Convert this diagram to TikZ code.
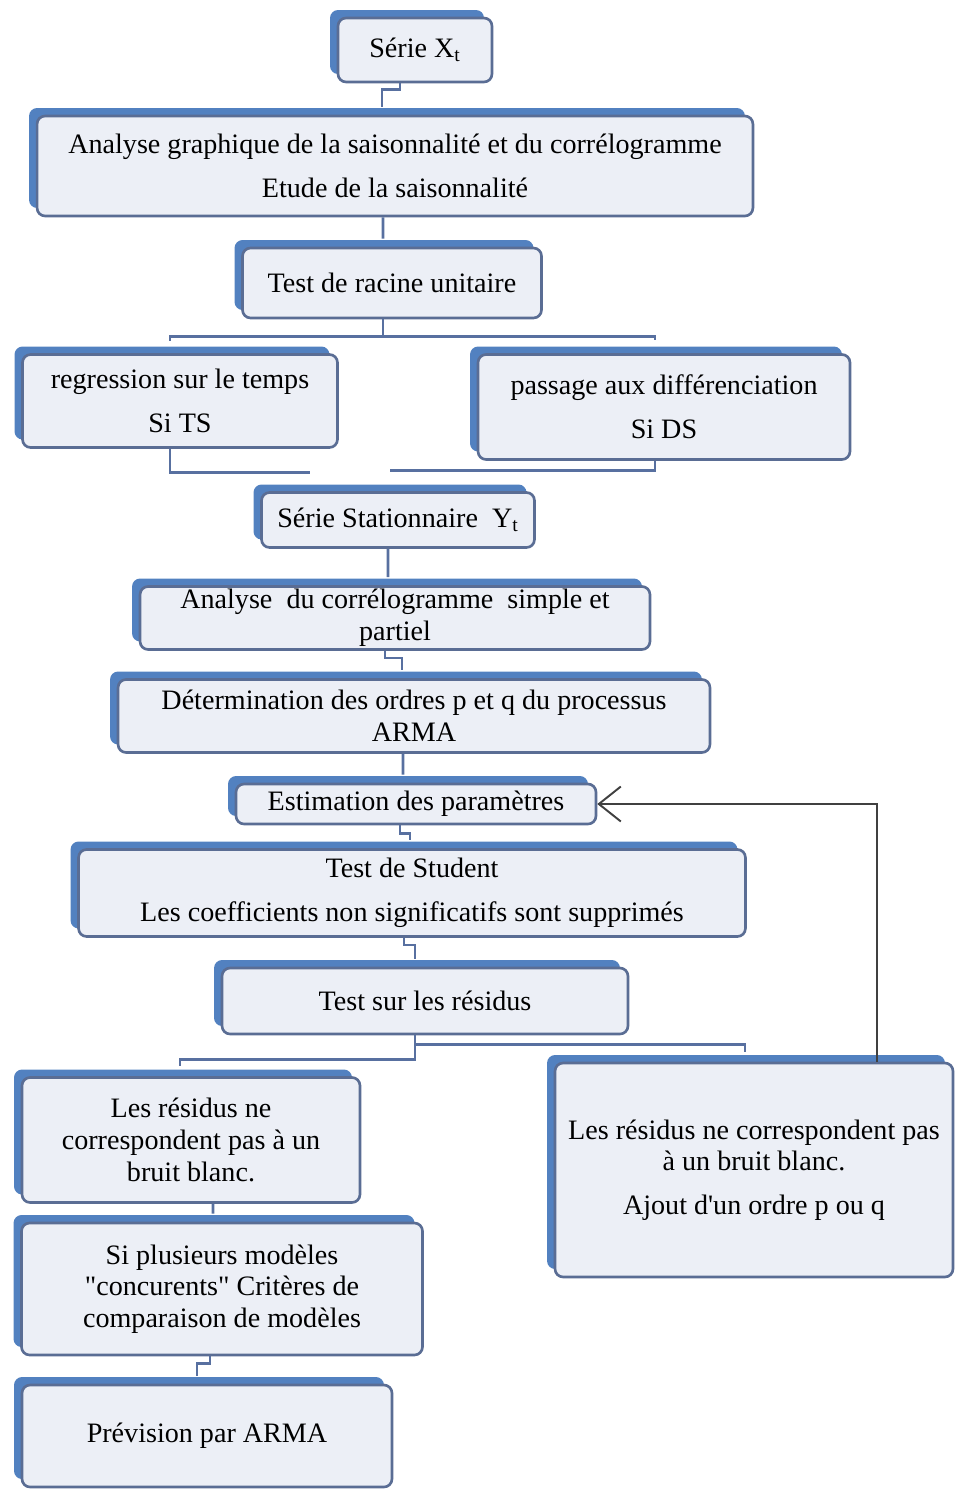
\documentclass[tikz,border=0pt]{standalone}
\usepackage{fontspec}
\setmainfont{Liberation Serif}
\usetikzlibrary{shadows,arrows.meta}
\definecolor{bordbleu}{HTML}{5A6D94}
\definecolor{ombrebleu}{HTML}{5281C0}
\definecolor{fondbox}{HTML}{ECEFF6}
\definecolor{lienbleu}{HTML}{5870A0}

\begin{document}
\begin{tikzpicture}[x=0.02cm, y=-0.02cm,
    etape/.style={draw=bordbleu, line width=1.5pt, fill=fondbox, rounded corners=0.16cm,
      general shadow={fill=ombrebleu, shadow xshift=-0.16cm, shadow yshift=0.16cm},
      align=center, inner sep=0pt, node font=\fontsize{16}{18}\selectfont},
    lien/.style={draw=lienbleu, line width=1.5pt},
    retour/.style={draw=black!75, line width=1.1pt, -{Straight Barb[length=0.44cm,width=0.7cm]}}]
  \useasboundingbox (0,0) rectangle (955,1490);
  % etapes
  \node[etape, minimum width=3.08cm, minimum height=1.28cm] (serie) at (415,50) {Série X\textsubscript{t}};
  \node[etape, minimum width=14.32cm, minimum height=2cm] (anagr) at (395,166)
    {Analyse graphique de la saisonnalité et du corrélogramme\\[7pt] Etude de la saisonnalité};
  \node[etape, minimum width=5.98cm, minimum height=1.4cm] (racine) at (392,283) {Test de racine unitaire};
  \node[etape, minimum width=6.3cm, minimum height=1.86cm] (regr) at (180,401) {regression sur le temps\\[7pt] Si TS};
  \node[etape, minimum width=7.44cm, minimum height=2.1cm] (diff) at (664,407) {passage aux différenciation\\[7pt] Si DS};
  \node[etape, minimum width=5.46cm, minimum height=1.1cm] (sstat) at (398,520) {Série Stationnaire~~Y\textsubscript{t}};
  \node[etape, minimum width=10.2cm, minimum height=1.26cm] (correl) at (395,618) {Analyse~~du corrélogramme~~simple et\\ partiel};
  \node[etape, minimum width=11.84cm, minimum height=1.46cm] (ordres) at (414,716) {Détermination des ordres p et q du processus\\ ARMA};
  \node[etape, minimum width=7.2cm, minimum height=0.8cm] (estim) at (416,804) {Estimation des paramètres};
  \node[etape, minimum width=13.34cm, minimum height=1.74cm] (student) at (412,893)
    {Test de Student\\[7pt] Les coefficients non significatifs sont supprimés};
  \node[etape, minimum width=8.12cm, minimum height=1.32cm] (tres) at (425,1001) {Test sur les résidus};
  \node[etape, minimum width=6.76cm, minimum height=2.5cm] (nonbb) at (191,1140)
    {Les résidus ne\\ correspondent pas à un\\ bruit blanc.};
  \node[etape, minimum width=7.96cm, minimum height=4.28cm] (ajout) at (754,1170)
    {Les résidus ne correspondent pas\\ à un bruit blanc.\\[7pt] Ajout d\textquotesingle un ordre p ou q};
  \node[etape, minimum width=8.02cm, minimum height=2.64cm] (crit) at (222,1289)
    {Si plusieurs modèles\\ \textquotedbl concurents\textquotedbl\ Critères de\\ comparaison de modèles};
  \node[etape, minimum width=7.4cm, minimum height=2.04cm] (prev) at (207,1436) {Prévision par ARMA};
  % liens
  \draw[lien] ([xshift=-0.3cm]serie.south) -- ++(0,6) -| ([xshift=-0.26cm,yshift=0.16cm]anagr.north);
  \draw[lien] ([xshift=-0.24cm]anagr.south) -- ([xshift=-0.18cm,yshift=0.16cm]racine.north);
  \draw[lien] ([xshift=-0.18cm]racine.south) -- ++(0,17) coordinate (split1) -| ([xshift=-0.2cm,yshift=0.24cm]regr.north);
  \draw[lien] (split1) -| ([xshift=-0.18cm,yshift=0.26cm]diff.north);
  \draw[lien] ([xshift=-0.2cm]regr.south) |- ([xshift=-1.76cm,yshift=0.38cm]sstat.north);
  \draw[lien] ([xshift=-0.18cm]diff.south) |- ([xshift=-0.16cm,yshift=0.42cm]sstat.north);
  \draw[lien] ([xshift=-0.2cm]sstat.south) -- ([xshift=-0.14cm,yshift=0.16cm]correl.north);
  \draw[lien] ([xshift=-0.2cm]correl.south) -- ++(0,7) -| ([xshift=-0.24cm,yshift=0.16cm]ordres.north);
  \draw[lien] ([xshift=-0.22cm]ordres.south) -- ([xshift=-0.26cm,yshift=0.16cm]estim.north);
  \draw[lien] ([xshift=-0.32cm]estim.south) -- ++(0,8) -| ([xshift=-0.04cm,yshift=0.16cm]student.north);
  \draw[lien] ([xshift=-0.16cm]student.south) -- ++(0,7) -| ([xshift=-0.2cm,yshift=0.16cm]tres.north);
  \draw[lien] ([xshift=-0.2cm]tres.south) -- ++(0,24) -| ([xshift=-0.22cm,yshift=0.2cm]nonbb.north);
  \draw[lien] ([xshift=-0.2cm]tres.south) -- ++(0,9) -| ([xshift=-0.18cm,yshift=0.2cm]ajout.north);
  \draw[lien] ([xshift=0.44cm]nonbb.south) -- ([xshift=-0.18cm,yshift=0.16cm]crit.north);
  \draw[lien] ([xshift=-0.24cm]crit.south) -- ++(0,7) -| ([xshift=-0.2cm,yshift=0.16cm]prev.north);
  % retour vers l'estimation
  \draw[retour] ([xshift=2.46cm]ajout.north) |- (estim.east);
\end{tikzpicture}
\end{document}
